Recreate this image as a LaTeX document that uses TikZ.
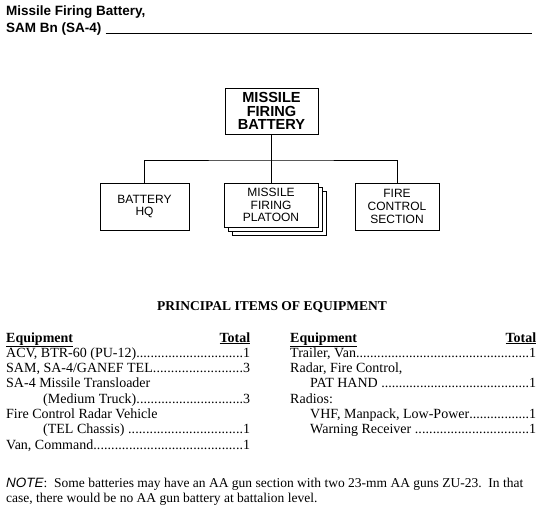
\documentclass[tikz,border=0pt]{standalone}
\usepackage{fontspec}
\setmainfont{Liberation Serif}
\setsansfont{Liberation Sans}
\newcommand\leadfill{\xleaders\hbox{.}\hfill}
\newcommand\tabfont{\rmfamily\fontsize{14}{15}\selectfont}
\begin{document}
\begin{tikzpicture}[x=1pt,y=-1pt,
  titletext/.style={anchor=base west,inner sep=0pt,font=\sffamily\bfseries\fontsize{13.5}{16}\selectfont},
  topbox/.style={draw,line width=0.9pt,fill=white,minimum width=93pt,minimum height=46pt,align=center,inner sep=0pt,font=\sffamily\bfseries\fontsize{14.6}{13.6}\selectfont},
  unitbox/.style={draw,line width=0.9pt,fill=white,minimum height=47pt,align=center,inner sep=0pt,font=\sffamily\fontsize{12}{12.7}\selectfont},
  conn/.style={line width=0.9pt},
  row/.style={anchor=base west,inner sep=0pt,font=\tabfont}]
\useasboundingbox (0,0) rectangle (550,514);
% title
\node[titletext] (t1) at (6,16) {Missile Firing Battery,};
\node[titletext] (t2) at (6,32) {SAM Bn (SA-4)};
\coordinate (ulend) at (532,33);
\draw[line width=0.8pt] ([xshift=4pt,yshift=-1pt]t2.base east) -- (ulend);
% chart
\node[topbox] (top) at (271.5,111) {MISSILE\\FIRING\\BATTERY};
\node[unitbox,minimum width=89pt] (hq) at (144.5,206.5) {BATTERY\\HQ};
\node[unitbox,minimum width=94pt,minimum height=44pt] (mfp3) at (279,213) {};
\node[unitbox,minimum width=94pt,minimum height=44pt] (mfp2) at (275,209) {};
\node[unitbox,minimum width=94pt,minimum height=44pt] (mfp) at (271,205) {MISSILE\\FIRING\\PLATOON};
\node[unitbox,minimum width=84pt] (fc) at (397,206.5) {FIRE\\CONTROL\\SECTION};
\coordinate (bus) at (271.5,160);
\draw[conn] (top.south) -- (bus);
\draw[conn] (hq.north) |- (bus) -| (fc.north);
\draw[conn] (bus) -- (bus -| mfp.north) -- (mfp.north);
% table
\node[anchor=base,inner sep=0pt,font=\rmfamily\bfseries\fontsize{13.5}{15}\selectfont] (head) at (272,310) {PRINCIPAL ITEMS OF EQUIPMENT};
\node[row] (lh) at (6,342) {\makebox[244pt][l]{\bfseries\underline{Equipment}\hfill\underline{Total}}};
\node[row] (l1) at (6,357) {\makebox[244pt][l]{ACV, BTR-60 (PU-12)\leadfill 1}};
\node[row] (l2) at (6,372.3) {\makebox[244pt][l]{SAM, SA-4/GANEF TEL\leadfill 3}};
\node[row] (l3) at (6,387.6) {SA-4 Missile Transloader};
\node[row] (l4) at (43,403) {\makebox[207pt][l]{(Medium Truck)\leadfill 3}};
\node[row] (l5) at (6,418.3) {Fire Control Radar Vehicle};
\node[row] (l6) at (43,433.6) {\makebox[207pt][l]{(TEL Chassis) \leadfill 1}};
\node[row] (l7) at (6,449) {\makebox[244pt][l]{Van, Command\leadfill 1}};
\node[row] (rh) at (290,342) {\makebox[246pt][l]{\bfseries\underline{Equipment}\hfill\underline{Total}}};
\node[row] (r1) at (290,357) {\makebox[246pt][l]{Trailer, Van\leadfill 1}};
\node[row] (r2) at (290,372.3) {Radar, Fire Control,};
\node[row] (r3) at (310,387.6) {\makebox[226pt][l]{PAT HAND \leadfill 1}};
\node[row] (r4) at (290,403) {Radios:};
\node[row] (r5) at (310,418.3) {\makebox[226pt][l]{VHF, Manpack, Low-Power\leadfill 1}};
\node[row] (r6) at (310,433.6) {\makebox[226pt][l]{Warning Receiver \leadfill 1}};
% note
\node[row,font=\rmfamily\fontsize{13.5}{15}\selectfont] (n1) at (6,487) {{\sffamily\itshape NOTE}:\ \ Some batteries may have an AA gun section with two 23-mm AA guns ZU-23.\ \ In that};
\node[row,font=\rmfamily\fontsize{13.5}{15}\selectfont] (n2) at (6,502) {case, there would be no AA gun battery at battalion level.};
\end{tikzpicture}
\end{document}
